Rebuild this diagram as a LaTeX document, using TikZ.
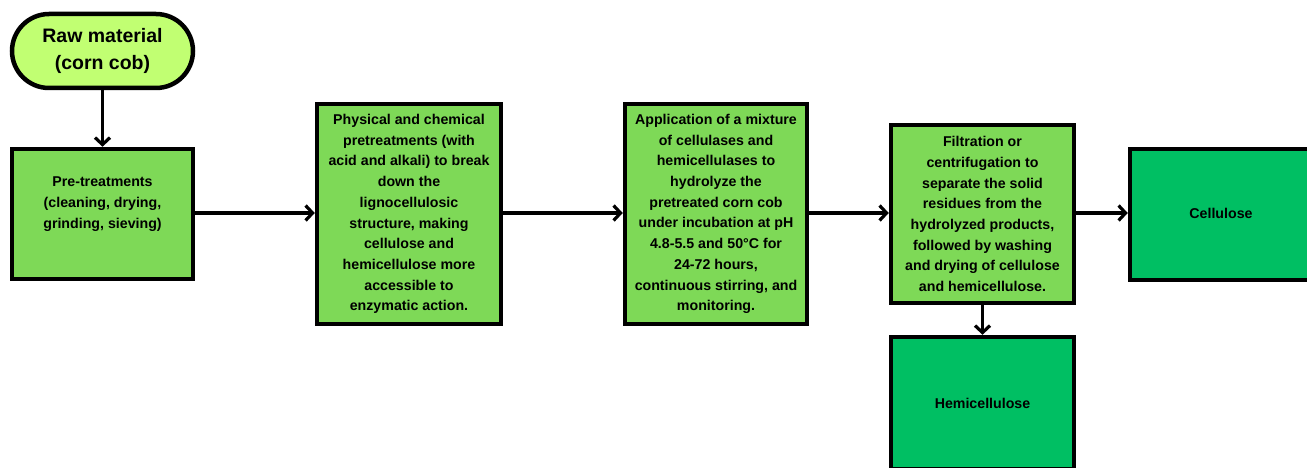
\documentclass[tikz,border=0pt]{standalone}
\usepackage{fontspec}
\setmainfont{Liberation Sans}
\usetikzlibrary{arrows.meta}
\definecolor{lime}{HTML}{C1FF72}
\definecolor{midgreen}{HTML}{7ED957}
\definecolor{darkgreen}{HTML}{00BF63}
\tikzset{
  boxfont/.style={font=\bfseries\fontsize{14.2}{20.7}\selectfont},
  stepbox/.style={draw=black, line width=4.5pt, fill=midgreen, rectangle, align=center,
    boxfont, inner sep=0pt},
  prodbox/.style={stepbox, fill=darkgreen},
  rawbox/.style={draw=black, line width=4.5pt, fill=lime, rounded corners=37pt, align=center,
    font=\bfseries\fontsize{19.5}{27}\selectfont, inner sep=0pt,
    minimum width=181pt, minimum height=74pt},
  flow/.style={line width=3.2pt, -{Straight Barb[length=7pt,width=15pt,line width=3.2pt]}}
}
\begin{document}
\begin{tikzpicture}[x=1pt,y=-1pt]
\useasboundingbox (0,0) rectangle (1307,468);
\node[rawbox] (raw) at (102.5,51) {Raw material\\(corn cob)};
\node[stepbox, minimum width=181pt, minimum height=130pt] (pre) at (102.5,214) {};
\node[boxfont, align=center] (pretxt) at (102.5,204) {Pre-treatments\\(cleaning, drying,\\grinding, sieving)};
\node[stepbox, minimum width=184pt, minimum height=220pt] (phys) at (409,214)
  {Physical and chemical\\pretreatments (with\\acid and alkali) to break\\down the\\lignocellulosic\\structure, making\\cellulose and\\hemicellulose more\\accessible to\\enzymatic action.};
\node[stepbox, minimum width=182pt, minimum height=220pt] (app) at (716,214)
  {Application of a mixture\\of cellulases and\\hemicellulases to\\hydrolyze the\\pretreated corn cob\\under incubation at pH\\4.8-5.5 and 50°C for\\24-72 hours,\\continuous stirring, and\\monitoring.};
\node[stepbox, minimum width=183pt, minimum height=178pt] (filt) at (982.5,214)
  {Filtration or\\centrifugation to\\separate the solid\\residues from the\\hydrolyzed products,\\followed by washing\\and drying of cellulose\\and hemicellulose.};
\node[prodbox, minimum width=182pt, minimum height=131pt] (cell) at (1221,214.5) {};
\node[boxfont] (celltxt) at (1221,213) {Cellulose};
\node[prodbox, minimum width=183pt, minimum height=132pt] (hemi) at (982.5,403) {Hemicellulose};
\draw[flow] (raw.south) -- (pre.north);
\draw[flow] (pre.east |- 0,213) -- (phys.west |- 0,213);
\draw[flow] (phys.east |- 0,213) -- (app.west |- 0,213);
\draw[flow] (app.east |- 0,213) -- (filt.west |- 0,213);
\draw[flow] (filt.east |- 0,213) -- (cell.west |- 0,213);
\draw[flow] (filt.south) -- (hemi.north);
\end{tikzpicture}
\end{document}
